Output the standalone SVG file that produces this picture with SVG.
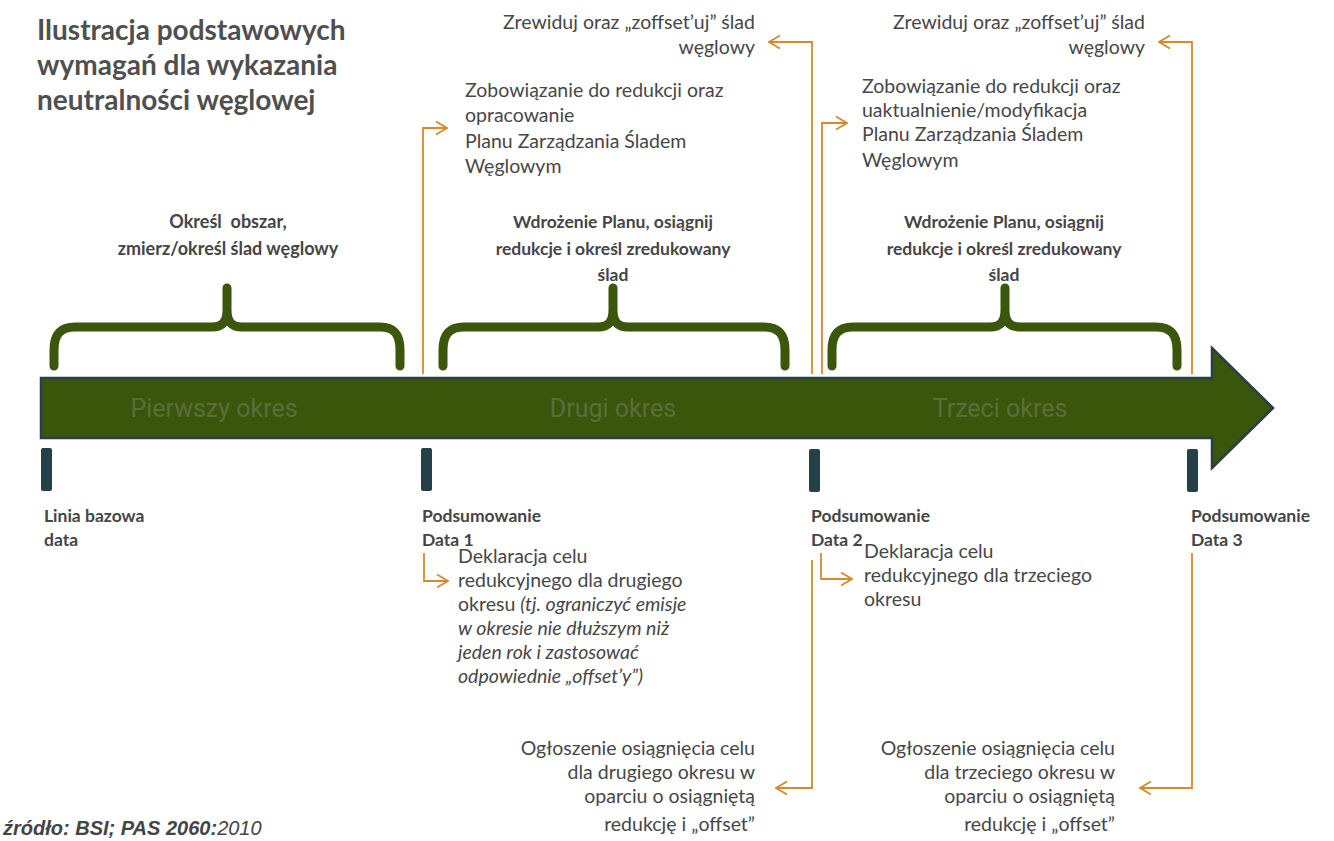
<svg xmlns="http://www.w3.org/2000/svg" width="1334" height="841" viewBox="0 0 1334 841">
<defs>
<style>
.title{font-family:Lato,"Open Sans","Liberation Sans",sans-serif;font-weight:700;font-size:28px;fill:#4f4f4f}
.bt{font-family:Lato,"Open Sans","Liberation Sans",sans-serif;font-weight:700;font-size:17.5px;fill:#454545}
.bt2{font-family:Lato,"Open Sans","Liberation Sans",sans-serif;font-weight:700;font-size:18px;fill:#454545}
.tx{font-family:Lato,"Open Sans","Liberation Sans",sans-serif;font-size:19.5px;fill:#474747}
.bar-label{font-family:Roboto,"Liberation Sans",sans-serif;font-size:25px;fill:#5a6d3d}
.brace{fill:none;stroke:#3a570b;stroke-width:9;stroke-linecap:round;stroke-linejoin:round}
.tick{fill:#26404a}
.conn{fill:none;stroke:#d48a2e;stroke-width:1.8}
.src{font-family:"Liberation Sans",Arial,sans-serif;font-style:italic;font-weight:700;font-size:20px;fill:#444}
</style>
<marker id="ah" viewBox="0 0 13 15" refX="12" refY="7.5" markerWidth="13" markerHeight="15" markerUnits="userSpaceOnUse" orient="auto">
<path d="M1,1 L12,7.5 L1,14" fill="none" stroke="#d48a2e" stroke-width="1.8"/>
</marker>
</defs>
<rect width="1334" height="841" fill="#ffffff"/>

<g id="title">
<text class="title" x="37" y="40">Ilustracja podstawowych</text>
<text class="title" x="37" y="75">wymagań dla wykazania</text>
<text class="title" x="37" y="110">neutralności węglowej</text>
</g>

<g id="timeline">
<path d="M41,378 H1212 V348 L1273,408 L1212,468 V438 H41 Z" fill="#3a560b" stroke="#2a3d48" stroke-width="2.5"/>
<text class="bar-label" x="214" y="417" text-anchor="middle">Pierwszy okres</text>
<text class="bar-label" x="613" y="417" text-anchor="middle">Drugi okres</text>
<text class="bar-label" x="1000" y="417" text-anchor="middle">Trzeci okres</text>
</g>

<g id="ticks">
<rect class="tick" x="41" y="448" width="11" height="43" rx="2"/>
<rect class="tick" x="421" y="448" width="11" height="43" rx="2"/>
<rect class="tick" x="809" y="449" width="11" height="43" rx="2"/>
<rect class="tick" x="1187" y="449" width="11" height="43" rx="2"/>
</g>

<g id="brace1">
<path class="brace" d="M54,366 V350 C54,335 60,327 75,327 H212 C222,327 227,322 227,310 V288 M227,310 C227,322 232,327 242,327 H380 C395,327 400,335 400,350 V366"/>
<text class="bt2" x="228" y="228" text-anchor="middle" style="white-space:pre">Określ  obszar,</text>
<text class="bt2" x="228" y="255" text-anchor="middle">zmierz/określ ślad węglowy</text>
</g>

<g id="brace2">
<path class="brace" d="M443,366 V350 C443,335 449,327 464,327 H598 C608,327 613,322 613,310 V288 M613,310 C613,322 618,327 628,327 H764 C779,327 785,335 785,350 V366"/>
<text class="bt" x="613" y="228" text-anchor="middle">Wdrożenie Planu, osiągnij</text>
<text class="bt" x="613" y="255" text-anchor="middle">redukcje i określ zredukowany</text>
<text class="bt" x="613" y="281" text-anchor="middle">ślad</text>
</g>

<g id="brace3">
<path class="brace" d="M832,366 V350 C832,335 838,327 853,327 H990 C1000,327 1005,322 1005,310 V288 M1005,310 C1005,322 1010,327 1020,327 H1156 C1171,327 1177,335 1177,350 V366"/>
<text class="bt" x="1004" y="228" text-anchor="middle">Wdrożenie Planu, osiągnij</text>
<text class="bt" x="1004" y="255" text-anchor="middle">redukcje i określ zredukowany</text>
<text class="bt" x="1004" y="281" text-anchor="middle">ślad</text>
</g>

<g id="node-revise1">
<text class="tx" x="755" y="29" text-anchor="end">Zrewiduj oraz „zoffset’uj” ślad</text>
<text class="tx" x="755" y="54" text-anchor="end">węglowy</text>
</g>
<g id="node-commit1">
<text class="tx" x="465" y="97">Zobowiązanie do redukcji oraz</text>
<text class="tx" x="465" y="122">opracowanie</text>
<text class="tx" x="465" y="148">Planu Zarządzania Śladem</text>
<text class="tx" x="465" y="173">Węglowym</text>
</g>
<g id="node-revise2">
<text class="tx" x="1145" y="29" text-anchor="end">Zrewiduj oraz „zoffset’uj” ślad</text>
<text class="tx" x="1145" y="54" text-anchor="end">węglowy</text>
</g>
<g id="node-commit2">
<text class="tx" x="862" y="93">Zobowiązanie do redukcji oraz</text>
<text class="tx" x="862" y="117">uaktualnienie/modyfikacja</text>
<text class="tx" x="862" y="141">Planu Zarządzania Śladem</text>
<text class="tx" x="862" y="167">Węglowym</text>
</g>

<g id="node-baseline">
<text class="bt" x="44" y="522">Linia bazowa</text>
<text class="bt" x="44" y="546">data</text>
</g>
<g id="node-review1">
<text class="bt" x="422" y="522">Podsumowanie</text>
<text class="bt" x="422" y="546">Data 1</text>
</g>
<g id="node-review2">
<text class="bt" x="811" y="522">Podsumowanie</text>
<text class="bt" x="811" y="546">Data 2</text>
</g>
<g id="node-review3">
<text class="bt" x="1191" y="522">Podsumowanie</text>
<text class="bt" x="1191" y="546">Data 3</text>
</g>

<g id="node-declare1">
<text class="tx" x="458" y="563">Deklaracja celu</text>
<text class="tx" x="458" y="587">redukcyjnego dla drugiego</text>
<text class="tx" x="458" y="611">okresu <tspan font-style="italic">(tj. ograniczyć emisje</tspan></text>
<text class="tx" x="458" y="635" font-style="italic">w okresie nie dłuższym niż</text>
<text class="tx" x="458" y="659" font-style="italic">jeden rok i zastosować</text>
<text class="tx" x="458" y="683" font-style="italic">odpowiednie „offset’y”)</text>
</g>
<g id="node-announce1">
<text class="tx" x="755" y="755" text-anchor="end">Ogłoszenie osiągnięcia celu</text>
<text class="tx" x="755" y="779" text-anchor="end">dla drugiego okresu w</text>
<text class="tx" x="755" y="803" text-anchor="end">oparciu o osiągniętą</text>
<text class="tx" x="755" y="831" text-anchor="end">redukcję i „offset”</text>
</g>
<g id="node-declare2">
<text class="tx" x="864" y="558">Deklaracja celu</text>
<text class="tx" x="864" y="582">redukcyjnego dla trzeciego</text>
<text class="tx" x="864" y="606">okresu</text>
</g>
<g id="node-announce2">
<text class="tx" x="1115" y="755" text-anchor="end">Ogłoszenie osiągnięcia celu</text>
<text class="tx" x="1115" y="779" text-anchor="end">dla trzeciego okresu w</text>
<text class="tx" x="1115" y="803" text-anchor="end">oparciu o osiągniętą</text>
<text class="tx" x="1115" y="831" text-anchor="end">redukcję i „offset”</text>
</g>

<g id="connectors">
<path class="conn" marker-end="url(#ah)" d="M423,374 V128 H447"/>
<path class="conn" marker-end="url(#ah)" d="M812,374 V42 H769"/>
<path class="conn" marker-end="url(#ah)" d="M822,374 V123 H847"/>
<path class="conn" marker-end="url(#ah)" d="M1192,374 V42 H1159"/>
<path class="conn" marker-end="url(#ah)" d="M424,553 V581 H448"/>
<path class="conn" marker-end="url(#ah)" d="M812,560 V788 H776"/>
<path class="conn" marker-end="url(#ah)" d="M821,553 V579 H852"/>
<path class="conn" marker-end="url(#ah)" d="M1192,553 V788 H1140"/>
</g>

<g id="source">
<text class="src" x="3" y="835">źródło: BSI; PAS 2060:<tspan font-weight="400">2010</tspan></text>
</g>
</svg>
